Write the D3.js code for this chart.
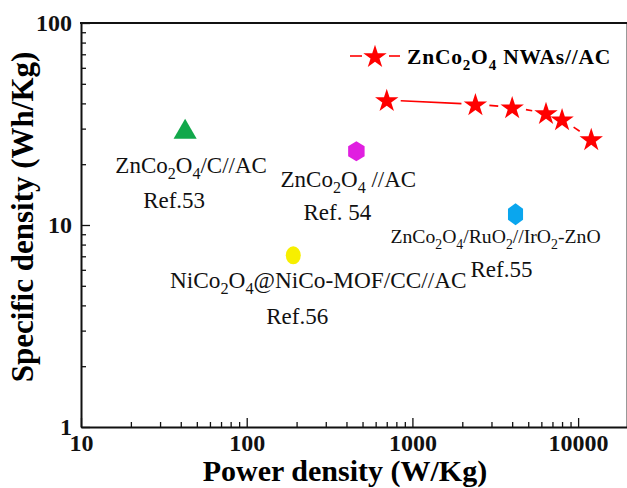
<!DOCTYPE html>
<html>
<head>
<meta charset="utf-8">
<script src="https://cdn.jsdelivr.net/npm/d3@7"></script>
<style>
  body { margin: 0; background: #fff; }
  text { font-family: "Liberation Serif", "Times New Roman", serif; }
</style>
</head>
<body>
<div id="chart"></div>
<script>
// ---------------- data ----------------
var starPower  = [700, 2400, 4000, 6400, 8000, 12000];
var starEnergy = [41.5, 39.6, 38.3, 35.8, 33.4, 26.6];
var seriesName = "ZnCo_2O_4 NWAs//AC";

var refNames  = ["ZnCo_2O_4/C//AC", "ZnCo_2O_4 //AC", "NiCo_2O_4@NiCo-MOF/CC//AC", "ZnCo_2O_4/RuO_2//IrO_2-ZnO"];
var refCites  = ["Ref.53", "Ref. 54", "Ref.56", "Ref.55"];
var refPower  = [42.5, 459, 191, 4190];
var refEnergy = [28.8, 23.2, 7.08, 11.3];

var xTickLabels = [10, 100, 1000, 10000];
var yTickLabels = [1, 10, 100];

// ---------------- layout ----------------
var W = 627, H = 488;

var svg = d3.select("#chart").append("svg")
  .attr("width", W).attr("height", H);

var x = d3.scaleLog().domain([10, 20000]).range([81, 628]);
var y = d3.scaleLog().domain([1, 100]).range([427, 23]);

// marker styles per reference point
var refStyle = [
  {shape: "tri",  color: "#12a84b"},
  {shape: "hex",  color: "#e01fe0", rx: 9.5, ry: 10},
  {shape: "ell",  color: "#f7ef00", rx: 7.5, ry: 9},
  {shape: "hex",  color: "#0aa6ee", rx: 8.7, ry: 11}
];
// label offsets from marker centre
var labelPos = [
  {dx: 6,   dy: 41, cx: -11, cy: 76, fs: 23},
  {dx: -8,  dy: 36, cx: -19, cy: 69, fs: 23},
  {dx: 25,  dy: 33, cx: 4,   cy: 69, fs: 23.3},
  {dx: -20, dy: 29, cx: -14, cy: 63, fs: 19.7}
];

// ---------------- frame ----------------
svg.append("line").attr("x1", 626.5).attr("x2", 626.5).attr("y1", 23).attr("y2", 427)
  .attr("stroke", "#999").attr("stroke-width", 1);
svg.append("line").attr("x1", 80).attr("x2", 627).attr("y1", 23).attr("y2", 23)
  .attr("stroke", "#111").attr("stroke-width", 2);

// all decade ticks 1..9
function logTicks(lo, hi) {
  var t = [];
  for (var d = lo; d < hi; d *= 10)
    for (var k = 1; k < 10; k++) t.push(d * k);
  t.push(hi);
  return t;
}
function isMajor(v) { return Math.abs(Math.log10(v) - Math.round(Math.log10(v))) < 1e-9; }

var xAxis = svg.append("g")
  .attr("transform", "translate(0,427)")
  .call(d3.axisBottom(x).tickValues(logTicks(10, 10000)).tickSizeInner(-5).tickSizeOuter(0).tickPadding(5)
    .tickFormat(function(v){ return xTickLabels.indexOf(v) >= 0 ? v : ""; }));
var yAxis = svg.append("g")
  .attr("transform", "translate(81,0)")
  .call(d3.axisLeft(y).tickValues(logTicks(1, 100)).tickSizeInner(-5).tickSizeOuter(0).tickPadding(9)
    .tickFormat(function(v){ return yTickLabels.indexOf(v) >= 0 ? v : ""; }));

[xAxis, yAxis].forEach(function(g){
  g.select(".domain").attr("stroke", "#111").attr("stroke-width", 2);
  g.selectAll(".tick line").attr("stroke", "#111").attr("stroke-width", 1.3);
  g.selectAll(".tick text").attr("fill", "#111")
    .style("font-family", "'Liberation Serif', serif")
    .style("font-weight", "bold").style("font-size", "24px");
});
xAxis.selectAll(".tick").filter(isMajor).select("line").attr("y2", -9);
yAxis.selectAll(".tick").filter(isMajor).select("line").attr("x2", 9);
xAxis.selectAll(".tick text").attr("dy", "0.8em");
yAxis.selectAll(".tick text").attr("dy", "0.33em");

// axis titles
svg.append("text")
  .attr("x", 345).attr("y", 481)
  .attr("text-anchor", "middle")
  .style("font-weight", "bold").style("font-size", "30px")
  .text("Power density (W/Kg)");
svg.append("text")
  .attr("transform", "translate(33,217) rotate(-90)")
  .attr("text-anchor", "middle")
  .style("font-weight", "bold").style("font-size", "31px")
  .text("Specific density (Wh/Kg)");

// text with _n subscripts
function richText(sel, str) {
  var parts = str.split(/(_\d)/), shift = 0;
  parts.forEach(function(p){
    if (!p) return;
    if (p[0] === "_") {
      sel.append("tspan").attr("dy", 6 - shift).style("font-size", "0.7em").text(p.slice(1));
      shift = 6;
    } else {
      sel.append("tspan").attr("dy", -shift).text(p);
      shift = 0;
    }
  });
}

// ---------------- series line (gapped around markers) ----------------
var stars = starPower.map(function(p, i){ return {px: x(p), py: y(starEnergy[i])}; });
var gap = 14;
for (var i = 0; i < stars.length - 1; i++) {
  var a = stars[i], b = stars[i + 1];
  var dx = b.px - a.px, dy = b.py - a.py, L = Math.sqrt(dx * dx + dy * dy);
  if (L <= 2 * gap) continue;
  svg.append("line")
    .attr("x1", a.px + dx / L * gap).attr("y1", a.py + dy / L * gap)
    .attr("x2", b.px - dx / L * gap).attr("y2", b.py - dy / L * gap)
    .attr("stroke", "#ff0000").attr("stroke-width", 1.6);
}
var star = d3.symbol().type(d3.symbolStar).size(170);
svg.selectAll(".star").data(stars).join("path")
  .attr("class", "star")
  .attr("d", star)
  .attr("transform", function(d){ return "translate(" + d.px + "," + (d.py + 1) + ")"; })
  .attr("fill", "#ff0000");

// legend
svg.append("line").attr("x1", 350).attr("x2", 362).attr("y1", 56).attr("y2", 56)
  .attr("stroke", "#ff0000").attr("stroke-width", 1.6);
svg.append("line").attr("x1", 389).attr("x2", 400).attr("y1", 56).attr("y2", 56)
  .attr("stroke", "#ff0000").attr("stroke-width", 1.6);
svg.append("path").attr("d", star).attr("transform", "translate(375,57)").attr("fill", "#ff0000");
var lg = svg.append("text").attr("x", 407).attr("y", 64)
  .style("font-weight", "bold").style("font-size", "21.5px").style("letter-spacing", "0.8px");
richText(lg, seriesName);

// ---------------- reference points ----------------
function hexPath(rx, ry) {
  var pts = d3.range(6).map(function(k){
    var ang = Math.PI / 2 + k * Math.PI / 3;
    return [rx * Math.cos(ang), -ry * Math.sin(ang)];
  });
  return d3.line()(pts) + "Z";
}
var tri = d3.symbol().type(d3.symbolTriangle).size(231);

refPower.forEach(function(p, i){
  var cx = x(p), cy = y(refEnergy[i]), st = refStyle[i], lp = labelPos[i];
  var g = svg.append("g").attr("transform", "translate(" + cx + "," + cy + ")");
  if (st.shape === "tri") g.append("path").attr("d", tri).attr("fill", st.color);
  else if (st.shape === "hex") g.append("path").attr("d", hexPath(st.rx, st.ry)).attr("fill", st.color);
  else g.append("ellipse").attr("rx", st.rx).attr("ry", st.ry).attr("fill", st.color);

  var t = svg.append("text").attr("x", cx + lp.dx).attr("y", cy + lp.dy)
    .attr("text-anchor", "middle").attr("fill", "#111")
    .style("font-size", lp.fs + "px");
  richText(t, refNames[i]);
  svg.append("text").attr("x", cx + lp.cx).attr("y", cy + lp.cy)
    .attr("text-anchor", "middle").attr("fill", "#111")
    .style("font-size", "23px")
    .text(refCites[i]);
});
</script>
</body>
</html>
